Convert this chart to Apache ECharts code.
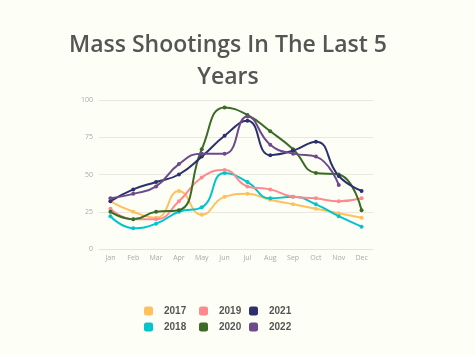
<!DOCTYPE html>
<html><head><meta charset="utf-8">
<script src="https://cdn.jsdelivr.net/npm/echarts@6/dist/echarts.min.js"></script>
<style>html,body{margin:0;padding:0;background:#fdfef5}#c{width:475px;height:356px}</style>
</head><body><div id="c"></div>
<script>
const months = ['Jan','Feb','Mar','Apr','May','Jun','Jul','Aug','Sep','Oct','Nov','Dec'];
const yTicks = [0, 25, 50, 75, 100];
const years = ['2017','2018','2019','2020','2021','2022'];
const v2017 = [32, 25, 21, 39, 23, 35, 37, 33, 30, 27, 24, 21];
const v2018 = [22, 14, 17, 25, 28, 51, 45, 34, 35, 30, 22, 15];
const v2019 = [27, 20, 20, 32, 48, 53, 42, 40, 35, 34, 32, 34];
const v2020 = [25, 20, 25, 26, 67, 95, 90, 79, 67, 51, 50, 26];
const v2021 = [32, 40, 45, 50, 62, 76, 86, 63, 66, 72, 49, 39];
const v2022 = [34, 37, 42, 57, 64, 64, 89, 70, 64, 62, 43, null];
const values = [v2017, v2018, v2019, v2020, v2021, v2022];
const colors = ['#ffc05e', '#00c5cd', '#ff8a8e', '#3b6b25', '#2e2f6e', '#6d4a8a'];

const chart = echarts.init(document.getElementById('c'), null, {renderer: 'canvas'});
const legendCols = [[0,1],[2,3],[4,5]];
const legendLeft = [144, 199, 249];
const legends = legendCols.map((col, i) => ({
  orient: 'vertical', left: legendLeft[i], top: 306, itemGap: 6, padding: 0,
  itemWidth: 9, itemHeight: 9, icon: 'roundRect',
  data: col.map(k => years[k]),
  textStyle: {color: '#555', fontSize: 10, fontWeight: 'bold', fontFamily: 'Liberation Sans', padding: [3, 0, 0, 6]}
}));
chart.setOption({
  backgroundColor: '#fdfef5',
  animation: false,
  color: colors,
  graphic: [{
    type: 'text', x: 228, y: 29,
    style: {text: 'Mass Shootings In The Last 5\nYears', fill: '#555', font: '600 23px "Open Sans"', textAlign: 'center', textVerticalAlign: 'top', lineHeight: 32}
  }],
  legend: legends,
  grid: {left: 99, right: 102, top: 100, bottom: 107},
  xAxis: {
    type: 'category', data: months, boundaryGap: true,
    axisLine: {lineStyle: {color: '#e4e4dc'}}, axisTick: {show: false},
    axisLabel: {color: '#aaa', fontSize: 7, fontFamily: 'Open Sans', margin: 5}
  },
  yAxis: {
    type: 'value', min: yTicks[0], max: yTicks[yTicks.length-1], interval: 25,
    axisLine: {show: false}, axisTick: {show: false},
    splitLine: {lineStyle: {color: '#e8e8e0'}},
    axisLabel: {color: '#aaa', fontSize: 7, fontFamily: 'Open Sans', margin: 6}
  },
  series: years.map((y, i) => ({
    name: y, type: 'line', smooth: true, data: values[i],
    symbol: 'circle', symbolSize: 4, connectNulls: false,
    lineStyle: {width: 2, color: colors[i]}, itemStyle: {color: colors[i]}
  }))
});
</script></body></html>
